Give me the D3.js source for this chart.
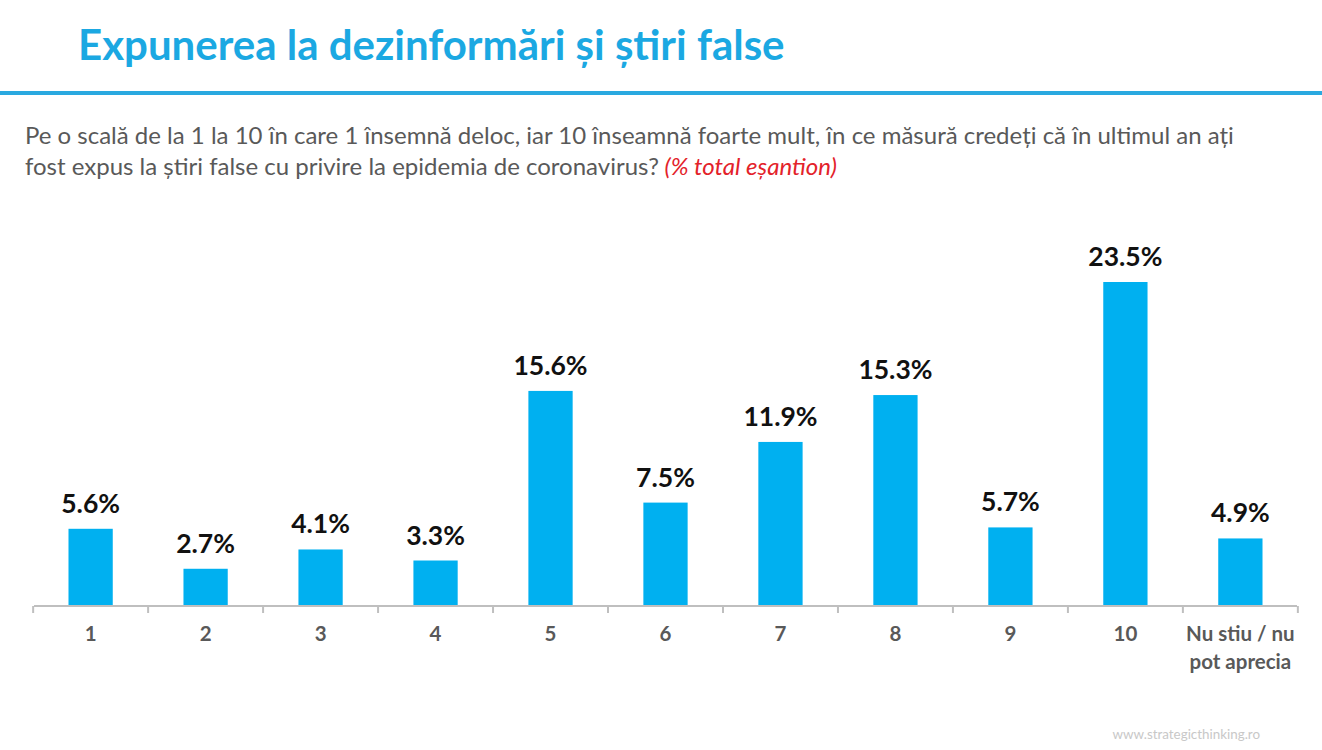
<!DOCTYPE html>
<html>
<head>
<meta charset="utf-8">
<script src="https://cdn.jsdelivr.net/npm/d3@7"></script>
<style>
  body { margin: 0; background: #fff; }
  svg { display: block; font-family: Lato, "Open Sans", sans-serif; }
</style>
</head>
<body>
<div id="chart"></div>
<script>
// chart values
var categories = ["1", "2", "3", "4", "5", "6", "7", "8", "9", "10", "Nu stiu / nu pot aprecia"];
var values = [5.6, 2.7, 4.1, 3.3, 15.6, 7.5, 11.9, 15.3, 5.7, 23.5, 4.9];
var titleText = "Expunerea la dezinformări și știri false";
var questionLines = [
    "Pe o scală de la 1 la 10 în care 1 însemnă deloc, iar 10 înseamnă foarte mult, în ce măsură credeți că în ultimul an ați",
    "fost expus la știri false cu privire la epidemia de coronavirus?"
];
var noteText = "(% total eșantion)";
var sourceText = "www.strategicthinking.ro";

var width = 1322, height = 750;
var margin = {top: 282, right: 25, bottom: 144, left: 34};

var svg = d3.select("#chart").append("svg")
    .attr("width", width)
    .attr("height", height);

// header
svg.append("text")
    .attr("x", 78)
    .attr("y", 60)
    .attr("fill", "#1ba8e2")
    .attr("font-size", 42)
    .attr("font-weight", "bold")
    .text(titleText);

svg.append("rect")
    .attr("x", 0)
    .attr("y", 91)
    .attr("width", width)
    .attr("height", 4)
    .attr("fill", "#2aa9e0");

var q = svg.append("g").attr("fill", "#595959").attr("font-size", 24);
q.selectAll("text")
    .data(questionLines)
    .enter()
    .append("text")
    .attr("x", 25)
    .attr("y", function(d, i){ return 144 + i * 31; })
    .text(function(d){ return d; });

// red note after the second line
q.select("text:nth-child(2)")
    .append("tspan")
    .attr("fill", "#e3222a")
    .attr("font-style", "italic")
    .text(" " + noteText);

// scales
var innerW = width - margin.left - margin.right;
var innerH = height - margin.top - margin.bottom;

var x = d3.scaleBand()
    .domain(categories)
    .range([0, innerW])
    .paddingInner(0.615)
    .paddingOuter(0.3);

var y = d3.scaleLinear()
    .domain([0, 23.5])
    .range([innerH, 0]);

var g = svg.append("g")
    .attr("transform", "translate(" + margin.left + "," + margin.top + ")");

g.selectAll(".bar")
    .data(values)
    .enter()
    .append("rect")
    .attr("class", "bar")
    .attr("x", function(d, i){ return x(categories[i]); })
    .attr("y", function(d){ return y(d); })
    .attr("width", x.bandwidth())
    .attr("height", function(d){ return innerH - y(d); })
    .attr("fill", "#00b0f0");

g.selectAll(".label")
    .data(values)
    .enter()
    .append("text")
    .attr("class", "label")
    .attr("x", function(d, i){ return x(categories[i]) + x.bandwidth() / 2; })
    .attr("y", function(d){ return y(d) - 16; })
    .attr("text-anchor", "middle")
    .attr("font-size", 26.5)
    .attr("font-weight", "bold")
    .attr("fill", "#111")
    .text(function(d){ return d.toFixed(1) + "%"; });

// x axis with ticks on band edges
var axis = g.append("g").attr("transform", "translate(0," + innerH + ")");

axis.append("line")
    .attr("x1", 0).attr("x2", innerW)
    .attr("stroke", "#bfbfbf").attr("stroke-width", 2);

var step = x.step();
var edges = d3.range(categories.length + 1).map(function(i){
    return x(categories[0]) - x.paddingInner() * step / 2 + i * step;
});
axis.selectAll(".tick")
    .data(edges)
    .enter()
    .append("line")
    .attr("x1", function(d){ return d; })
    .attr("x2", function(d){ return d; })
    .attr("y1", 0).attr("y2", 7)
    .attr("stroke", "#bfbfbf").attr("stroke-width", 2);

var tickText = axis.selectAll(".tlabel")
    .data(categories)
    .enter()
    .append("text")
    .attr("class", "tlabel")
    .attr("text-anchor", "middle")
    .attr("font-size", 20.5)
    .attr("font-weight", "bold")
    .attr("fill", "#595959")
    .attr("transform", function(d){
        return "translate(" + (x(d) + x.bandwidth() / 2) + ",35)";
    });

tickText.each(function(d){
    var el = d3.select(this);
    var parts = d.length > 3 ? ["Nu stiu / nu", "pot aprecia"] : [d];
    parts.forEach(function(p, i){
        el.append("tspan").attr("x", 0).attr("dy", i ? 28 : 0).text(p);
    });
});

svg.append("text")
    .attr("x", 1260)
    .attr("y", 739)
    .attr("text-anchor", "end")
    .attr("font-size", 13.4)
    .attr("fill", "#c8c8c8")
    .text(sourceText);
</script>
</body>
</html>
